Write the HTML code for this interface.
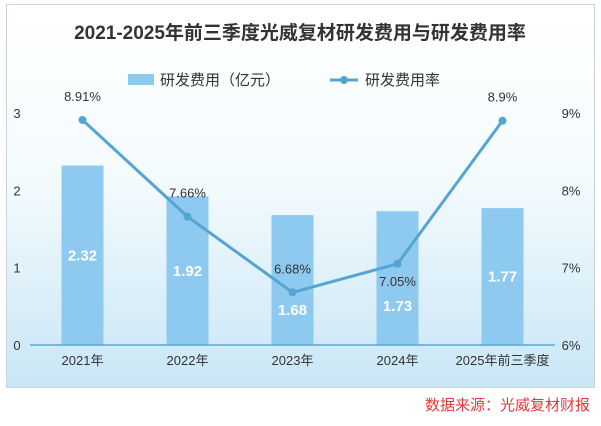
<!DOCTYPE html>
<html><head><meta charset="utf-8"><style>
body{margin:0;width:601px;height:421px;background:#fff;overflow:hidden;font-family:"Liberation Sans","Noto Sans CJK SC",sans-serif}
</style></head><body>
<svg id="c" width="601" height="421" xmlns="http://www.w3.org/2000/svg">
<defs><linearGradient id="bg" x1="0" y1="0" x2="0" y2="1">
<stop offset="0" stop-color="#ffffff"/><stop offset="0.45" stop-color="#f4fbfd"/><stop offset="1" stop-color="#c9e6f6"/></linearGradient></defs>
<rect x="6.5" y="4.5" width="588" height="383" fill="url(#bg)" stroke="#c8d3da"/>
<text x="300" y="39" text-anchor="middle" font-size="19" font-weight="bold" fill="#333">2021-2025年前三季度光威复材研发费用与研发费用率</text>
<g>
<rect x="128" y="74" width="26" height="11" fill="#8ec9f0"/>
<text x="160" y="85" font-size="15" fill="#333">研发费用（亿元）</text>
<line x1="330" y1="80" x2="358" y2="80" stroke="#55a5d3" stroke-width="3"/>
<circle cx="344" cy="80" r="4" fill="#55a5d3"/>
<text x="365" y="85" font-size="15" fill="#333">研发费用率</text>
</g>
<g id="plot"></g>
<text x="590" y="410" text-anchor="end" font-size="15" fill="#e03a3a">数据来源：光威复材财报</text>
</svg>
<script>
const categories=["2021年","2022年","2023年","2024年","2025年前三季度"];
const expense=[2.32,1.92,1.68,1.73,1.77];
const rate=[8.91,7.66,6.68,7.05,8.9];
const leftTicks=[0,1,2,3];
const rightTicks=[6,7,8,9];
const NS="http://www.w3.org/2000/svg";
const g=document.getElementById('plot');
const x0=30,x1=555,yb=345,yt=113;
const step=(x1-x0)/categories.length;
const xc=i=>x0+step*(i+0.5);
const yL=v=>yb-(v-0)/3*(yb-yt);
const yR=v=>yb-(v-6)/3*(yb-yt);
function mk(t,a,txt){const e=document.createElementNS(NS,t);for(const k in a)e.setAttribute(k,a[k]);if(txt!=null)e.textContent=txt;g.appendChild(e);return e;}
leftTicks.forEach(v=>{const e=mk('text',{x:17,y:yL(v)+5,'text-anchor':'middle','font-size':13,fill:'#333'},v);

});
rightTicks.forEach(v=>{const e=mk('text',{x:571,y:yR(v)+5,'text-anchor':'middle','font-size':13,fill:'#333'},v+'%');

});
expense.forEach((v,i)=>{const b=mk('rect',{x:xc(i)-21,y:yL(v),width:42,height:yb-yL(v),fill:'#8ec9f0'});


const ly=(i===2||i===3)?yL(v)+100:yL(v)+(yb-yL(v))*0.5+5;
const t=mk('text',{x:xc(i),y:ly,'text-anchor':'middle','font-size':15,'font-weight':'bold',fill:'#fff'},v.toFixed(2));


const c=mk('text',{x:xc(i),y:yb+20,'text-anchor':'middle','font-size':13,fill:'#333'},categories[i]);

});
const ax=mk('line',{x1:x0,y1:yb,x2:x1,y2:yb,stroke:'#5aa8d6','stroke-width':1.5});


const pl=mk('polyline',{points:rate.map((v,i)=>xc(i)+','+yR(v)).join(' '),fill:'none',stroke:'#55a5d3','stroke-width':3,'stroke-linejoin':'round'});


rate.forEach((v,i)=>{const c=mk('circle',{cx:xc(i),cy:yR(v),r:4,fill:'#55a5d3'});


const t=mk('text',{x:xc(i),y:yR(v)-19,'text-anchor':'middle','font-size':13,fill:'#333'},v+'%');
if(i===3)t.setAttribute('y',yR(v)+22);

});
</script>
</body></html>
